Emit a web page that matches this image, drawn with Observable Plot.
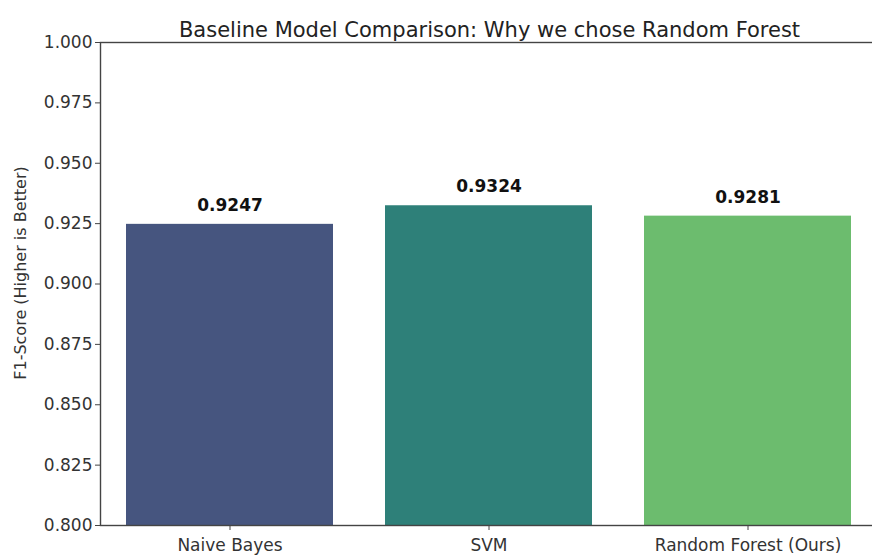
<!DOCTYPE html>
<html>
<head>
<meta charset="utf-8">
<script src="https://cdn.jsdelivr.net/npm/d3@7"></script>
<script src="https://cdn.jsdelivr.net/npm/@observablehq/plot@0.6"></script>
<style>
  html, body { margin: 0; padding: 0; background: #fff; overflow: hidden; }
  #chart svg { display: block; }
</style>
</head>
<body>
<div id="chart"></div>
<script>
const models = ["Naive Bayes", "SVM", "Random Forest (Ours)"];
const scores = [0.9247, 0.9324, 0.9281];
const barColors = ["#46557f", "#2e8079", "#6cbc6e"];
const yTicks = [0.800, 0.825, 0.850, 0.875, 0.900, 0.925, 0.950, 0.975, 1.000];
const title = "Baseline Model Comparison: Why we chose Random Forest";
const yLabel = "F1-Score (Higher is Better)";

const data = models.map((m, i) => ({model: m, score: scores[i]}));

const chart = Plot.plot({
  width: 872,
  height: 555,
  marginLeft: 100,
  marginRight: -6,
  marginTop: 42,
  marginBottom: 30,
  style: {fontFamily: "DejaVu Sans", fontSize: "15px", color: "#333", background: "#fff"},
  x: {domain: models, paddingInner: 0.2, paddingOuter: 0.1, label: null},
  y: {domain: [0.8, 1.0], label: null},
  color: {domain: models, range: barColors},
  marks: [
    Plot.barY(data, {x: "model", y1: 0.8, y2: "score", fill: "model"}),
    Plot.text(data, {x: "model", y: "score", text: d => d.score.toFixed(4), dy: -19, fontWeight: "bold", fontSize: 17, fill: "#111"}),
    Plot.frame({stroke: "#444", strokeWidth: 1.4}),
    Plot.axisY({ticks: yTicks, tickFormat: d3.format(".3f"), tickSize: 5, tickPadding: 3, fontSize: 17, label: null, stroke: "#444"}),
    Plot.axisX({tickSize: 5, tickPadding: 8, fontSize: 17, label: null, stroke: "#444"}),
    Plot.text([yLabel], {frameAnchor: "left", textAnchor: "middle", lineAnchor: "middle", rotate: -90, dx: -80, dy: -11, fontSize: "16px", fill: "#333"}),
    Plot.text([title], {frameAnchor: "top", dy: -20, fontSize: 21, fill: "#222"})
  ]
});
document.getElementById("chart").appendChild(chart);
</script>
</body>
</html>
